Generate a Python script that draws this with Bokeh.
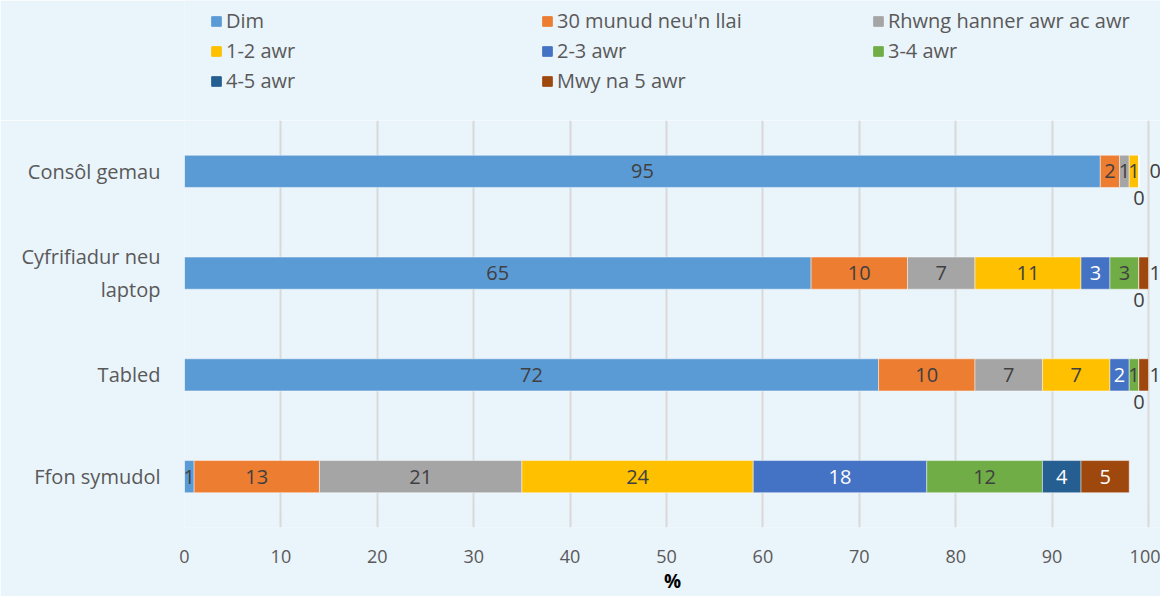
import textwrap
from bokeh.plotting import figure
from bokeh.layouts import column
from bokeh.models import (ColumnDataSource, FactorRange, Range1d, FixedTicker,
                          LabelSet, Legend, LegendItem)
from bokeh.core.properties import value
from bokeh.embed import file_html
from bokeh.resources import INLINE

# ---------------- data ----------------
categories = ["Consôl gemau", "Cyfrifiadur neu laptop", "Tabled", "Ffon symudol"]
series_names = ["Dim", "30 munud neu'n llai", "Rhwng hanner awr ac awr", "1-2 awr",
                "2-3 awr", "3-4 awr", "4-5 awr", "Mwy na 5 awr"]
dim = [95, 65, 72, 1]
munud_30 = [2, 10, 10, 13]
hanner_awr = [1, 7, 7, 21]
awr_1_2 = [1, 11, 7, 24]
awr_2_3 = [0, 3, 2, 18]
awr_3_4 = [0, 3, 1, 12]
awr_4_5 = [0, 0, 0, 4]
mwy_5 = [0, 1, 1, 5]
x_ticks = [0, 10, 20, 30, 40, 50, 60, 70, 80, 90, 100]
x_label = "%"

series_values = [dim, munud_30, hanner_awr, awr_1_2, awr_2_3, awr_3_4, awr_4_5, mwy_5]

# ---------------- style ----------------
BG = "#EAF4FB"
FONT = "Open Sans"
colors = ["#5B9BD5", "#ED7D31", "#A5A5A5", "#FFC000", "#4472C4", "#70AD47", "#255E91", "#9E480E"]
label_colors = ["#404040", "#404040", "#404040", "#404040", "#FFFFFF", "#404040", "#FFFFFF", "#FFFFFF"]
DARK = "#404040"
AXIS_TXT = "#595959"
W = 1160
LEG_H = 120
MAIN_H = 476

factors = ["\n".join(textwrap.wrap(c, 16)) for c in categories]

keys = [f"s{i}" for i in range(len(series_names))]
data = {"cat": factors}
for k, vals in zip(keys, series_values):
    data[k] = vals
source = ColumnDataSource(data)

p = figure(width=W, height=MAIN_H,
           y_range=FactorRange(factors=list(reversed(factors)), range_padding=0),
           x_range=Range1d(0, 101.245),
           output_backend="svg", toolbar_location=None,
           min_border_left=184, min_border_right=0, min_border_top=0, min_border_bottom=69,
           background_fill_color=BG, border_fill_color=BG, outline_line_color=None)

renderers = p.hbar_stack(keys, y="cat", height=0.316, source=source, color=colors,
                         line_color="#FFFFFF", line_alpha=0.45, line_width=1)

# ---------------- data labels ----------------
axis_end = max(x_ticks)
inside = {"x": [], "y": [], "t": [], "c": []}
right_lbl = {"x": [], "y": [], "t": []}
below_lbl = {"x": [], "y": [], "t": []}
for j, cat in enumerate(factors):
    cum = 0
    for i, vals in enumerate(series_values):
        v = vals[j]
        if series_names[i] == "Mwy na 5 awr" and v <= 1:
            right_lbl["x"].append(max(cum + v, axis_end)); right_lbl["y"].append(cat)
            right_lbl["t"].append(str(v))
        elif series_names[i] == "4-5 awr" and v == 0:
            below_lbl["x"].append(cum); below_lbl["y"].append(cat); below_lbl["t"].append(str(v))
        elif v > 0:
            inside["x"].append(cum + v / 2); inside["y"].append(cat)
            inside["t"].append(str(v)); inside["c"].append(label_colors[i])
        cum += v

p.add_layout(LabelSet(x="x", y="y", text="t", source=ColumnDataSource(inside),
                      text_color="c", text_align="center", text_baseline="middle",
                      text_font=value(FONT), text_font_size="20px"))
p.add_layout(LabelSet(x="x", y="y", text="t", source=ColumnDataSource(right_lbl),
                      text_color=DARK, text_align="left", text_baseline="middle",
                      x_offset=1, text_font=value(FONT), text_font_size="20px"))
p.add_layout(LabelSet(x="x", y="y", text="t", source=ColumnDataSource(below_lbl),
                      text_color=DARK, text_align="center", text_baseline="middle",
                      y_offset=-27, text_font=value(FONT), text_font_size="20px"))

# ---------------- axes / grid ----------------
p.ygrid.visible = False
p.yaxis.axis_line_color = None
p.yaxis.major_tick_line_color = None
p.yaxis.minor_tick_line_color = None
p.yaxis.major_label_standoff = 18
p.yaxis.major_label_text_font = FONT
p.yaxis.major_label_text_font_size = "20px"
p.yaxis.major_label_text_color = AXIS_TXT

p.xaxis.ticker = FixedTicker(ticks=x_ticks)
p.xgrid.ticker = FixedTicker(ticks=x_ticks)
p.xgrid.grid_line_color = "#D9D9D9"
p.xgrid.grid_line_width = 2
p.xaxis.axis_line_color = None
p.xaxis.major_tick_line_color = None
p.xaxis.minor_tick_line_color = None
p.xaxis.major_label_standoff = 16
p.xaxis.major_label_text_font = FONT
p.xaxis.major_label_text_font_size = "18px"
p.xaxis.major_label_text_color = AXIS_TXT
p.xaxis.axis_label = x_label
p.xaxis.axis_label_standoff = 2
p.xaxis.axis_label_text_font = FONT
p.xaxis.axis_label_text_font_size = "19px"
p.xaxis.axis_label_text_font_style = "bold"
p.xaxis.axis_label_text_color = "#000000"

# ---------------- legend (own strip above the chart) ----------------
lf = figure(width=W, height=LEG_H, x_range=Range1d(0, 1), y_range=Range1d(0, 1),
            output_backend="svg", toolbar_location=None,
            x_axis_location=None, y_axis_location=None, min_border=0,
            background_fill_color=BG, border_fill_color=BG, outline_line_color=None)
lf.xgrid.visible = False
lf.ygrid.visible = False
# off-screen proxies that only carry the legend swatch colours
leg_renderers = [lf.hbar(y=[-5], left=[0], right=[1], height=0.5, color=c) for c in colors]
legend = Legend(items=[LegendItem(label=n, renderers=[r]) for n, r in zip(series_names, leg_renderers)],
                orientation="horizontal", ncols=3, location=(26, 26),
                glyph_width=12, glyph_height=12, label_width=312, label_height=20,
                spacing=3, padding=0, margin=0, label_standoff=4,
                label_text_font=FONT, label_text_font_size="20px", label_text_color=AXIS_TXT,
                border_line_color=None, background_fill_alpha=0)
lf.add_layout(legend)

layout = column(lf, p, spacing=0)
open("out.html", "w").write(file_html(layout, INLINE))
